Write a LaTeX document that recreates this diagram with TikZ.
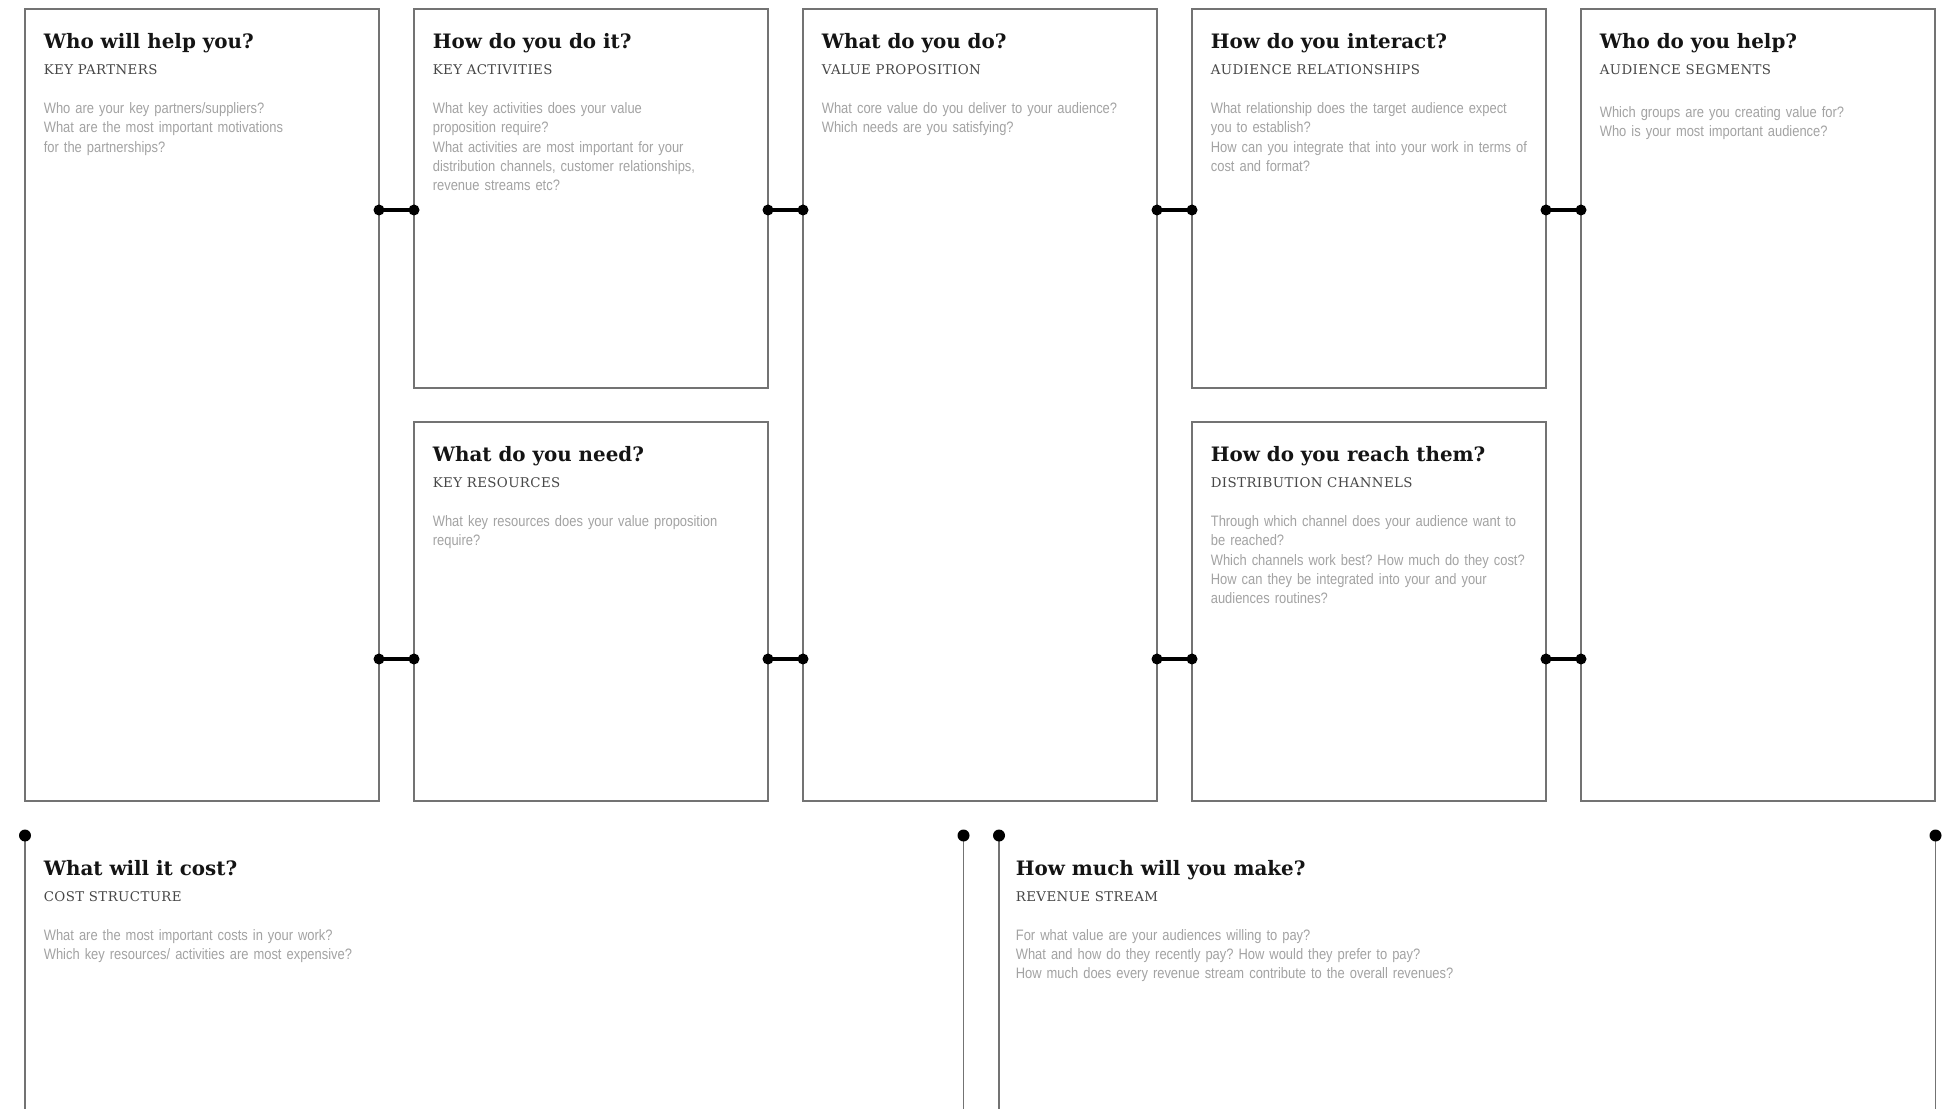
\documentclass[tikz,border=0pt]{standalone}
\usepackage{fontspec}
\newfontfamily\headfont{DejaVu Serif}
\newfontfamily\capsfont[LetterSpace=3]{DejaVu Serif}
\newfontfamily\askfont[FakeStretch=0.855]{Liberation Sans}
\usetikzlibrary{positioning}

\begin{document}
\begin{tikzpicture}
  \tikzset{
    panel/.style={draw=black!55, line width=0.9pt, inner sep=0pt, outer sep=0pt, anchor=north west, minimum width=7.08cm},
    tall/.style={panel, minimum height=15.84cm},
    half/.style={panel, minimum height=7.58cm},
    headline/.style={below right=0.79cm and 0.37cm of #1, anchor=base west, inner sep=0pt, text=black!92, font=\headfont\bfseries\fontsize{11.3}{13}\selectfont},
    tagline/.style={below=0.52cm of #1, anchor=base west, inner sep=0pt, text=black!72, font=\capsfont\fontsize{7.6}{9}\selectfont},
    question/.style={below=0.78cm of #1, anchor=base west, inner sep=0pt, text width=12cm, align=left, text=black!36, font=\askfont\fontsize{8.6}{10.97}\selectfont\frenchspacing},
    link/.style={line width=2.2pt},
    rule/.style={draw=black!55, line width=0.9pt},
  }

  \path[fill=white, use as bounding box] (0,0) rectangle (38.96,-22.18);

  \node[tall] (kp) at (0.5,-0.18) {};
  \node[half] (ka) at (8.28,-0.18) {};
  \node[half] (kr) at (8.28,-8.44) {};
  \node[tall] (vp) at (16.06,-0.18) {};
  \node[half] (ar) at (23.84,-0.18) {};
  \node[half] (dc) at (23.84,-8.44) {};
  \node[tall] (as) at (31.62,-0.18) {};

  % links between the columns
  \coordinate (hi) at (0,-4.2);
  \coordinate (lo) at (0,-13.18);
  \foreach \a/\b/\y in {kp/ka/hi, ka/vp/hi, vp/ar/hi, ar/as/hi, kp/kr/lo, kr/vp/lo, vp/dc/lo, dc/as/lo} {
    \draw[link] (\a.east |- \y) -- (\b.west |- \y);
    \fill (\a.east |- \y) circle (0.11) (\b.west |- \y) circle (0.11);
  }

  % costs and revenue, open at the bottom
  \coordinate (cs) at (0.5,-16.71);
  \coordinate (cs-end) at (19.27,-16.71);
  \coordinate (rs) at (19.98,-16.71);
  \coordinate (rs-end) at (38.71,-16.71);
  \coordinate (floor) at (0,-22.18);
  \foreach \c in {cs,cs-end,rs,rs-end} {
    \draw[rule] (\c) -- (\c |- floor);
    \fill (\c) circle (0.12);
  }

  \node[headline=kp.north west] (kp-t) {Who will help you?};
  \node[tagline=kp-t.base west] (kp-s) {KEY PARTNERS};
  \node[question=kp-s.base west] (kp-q) {Who are your key partners/suppliers?\\What are the most important motivations\\for the partnerships?};

  \node[headline=ka.north west] (ka-t) {How do you do it?};
  \node[tagline=ka-t.base west] (ka-s) {KEY ACTIVITIES};
  \node[question=ka-s.base west] (ka-q) {What key activities does your value\\proposition require?\\What activities are most important for your\\distribution channels, customer relationships,\\revenue streams etc?};

  \node[headline=kr.north west] (kr-t) {What do you need?};
  \node[tagline=kr-t.base west] (kr-s) {KEY RESOURCES};
  \node[question=kr-s.base west] (kr-q) {What key resources does your value proposition\\require?};

  \node[headline=vp.north west] (vp-t) {What do you do?};
  \node[tagline=vp-t.base west] (vp-s) {VALUE PROPOSITION};
  \node[question=vp-s.base west] (vp-q) {What core value do you deliver to your audience?\\Which needs are you satisfying?};

  \node[headline=ar.north west] (ar-t) {How do you interact?};
  \node[tagline=ar-t.base west] (ar-s) {AUDIENCE RELATIONSHIPS};
  \node[question=ar-s.base west] (ar-q) {What relationship does the target audience expect\\you to establish?\\How can you integrate that into your work in terms of\\cost and format?};

  \node[headline=dc.north west] (dc-t) {How do you reach them?};
  \node[tagline=dc-t.base west] (dc-s) {DISTRIBUTION CHANNELS};
  \node[question=dc-s.base west] (dc-q) {Through which channel does your audience want to\\be reached?\\Which channels work best? How much do they cost?\\How can they be integrated into your  and your\\audiences routines?};

  \node[headline=as.north west] (as-t) {Who do you help?};
  \node[tagline=as-t.base west] (as-s) {AUDIENCE SEGMENTS};
  \node[question=as-s.base west, yshift=-0.08cm] (as-q) {Which groups are you creating value for?\\Who is your most important audience?};

  \node[headline=cs] (cs-t) {What will it cost?};
  \node[tagline=cs-t.base west] (cs-s) {COST STRUCTURE};
  \node[question=cs-s.base west] (cs-q) {What are the most important costs in your work?\\Which key resources/ activities are most expensive?};

  \node[headline=rs, xshift=-0.04cm] (rs-t) {How much will you make?};
  \node[tagline=rs-t.base west] (rs-s) {REVENUE STREAM};
  \node[question=rs-s.base west] (rs-q) {For what value are your audiences willing to pay?\\What and how do they recently pay? How would they prefer to pay?\\How much does every revenue stream contribute to the overall revenues?};
\end{tikzpicture}
\end{document}
